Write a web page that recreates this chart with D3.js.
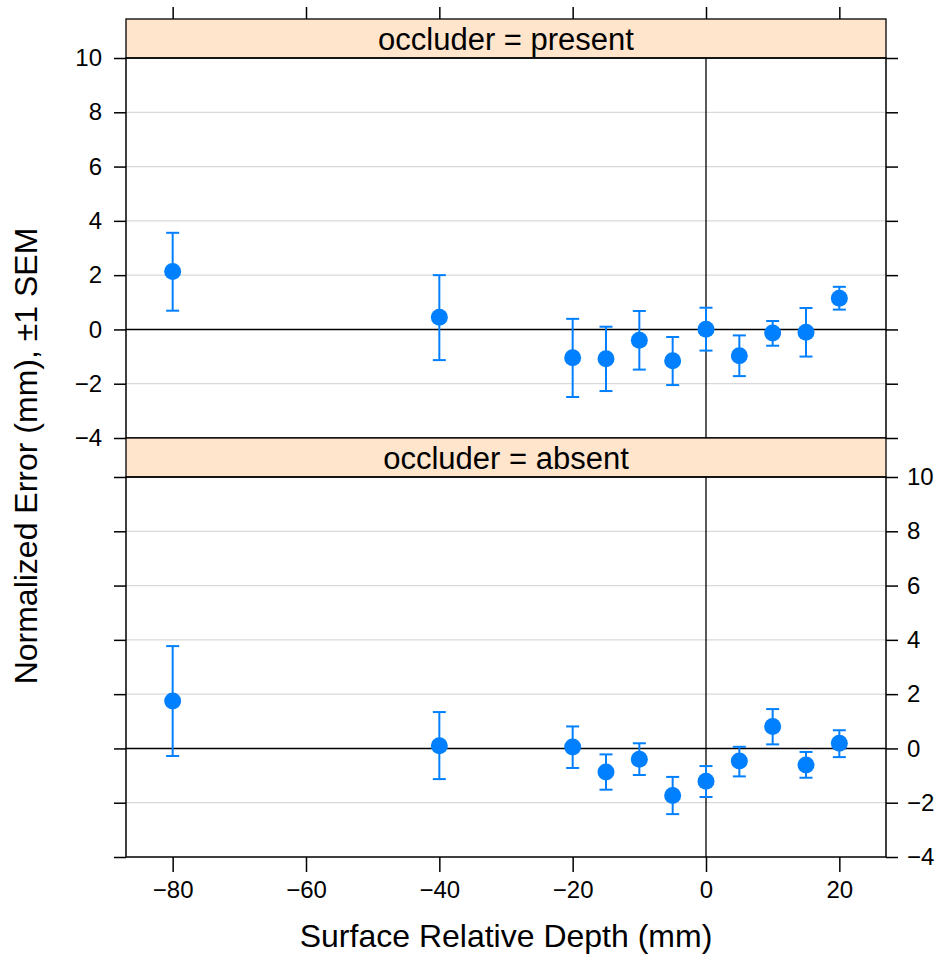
<!DOCTYPE html>
<html>
<head>
<meta charset="utf-8">
<script src="https://cdn.jsdelivr.net/npm/d3@7"></script>
<style>
  body { margin: 0; background: #fff; }
  svg { display: block; font-family: "Liberation Sans", Arial, Helvetica, sans-serif; }
</style>
</head>
<body>
<svg id="chart" width="942" height="959"></svg>
<script>
// Surface relative depth (mm) for each condition
const depths = [-80, -40, -20, -15, -10, -5, 0, 5, 10, 15, 20];

// Occluder present: mean normalized error and ±1 SEM bounds
const presentMean  = [2.13, 0.45, -1.04, -1.08, -0.40, -1.15, 0.01, -0.97, -0.13, -0.10, 1.15];
const presentUpper = [3.56, 2.00, 0.39, 0.10, 0.68, -0.28, 0.80, -0.22, 0.31, 0.79, 1.57];
const presentLower = [0.69, -1.13, -2.49, -2.27, -1.48, -2.05, -0.78, -1.72, -0.60, -1.00, 0.73];

// Occluder absent: mean normalized error and ±1 SEM bounds
const absentMean  = [1.75, 0.10, 0.05, -0.87, -0.40, -1.73, -1.21, -0.46, 0.81, -0.61, 0.19];
const absentUpper = [3.77, 1.34, 0.81, -0.22, 0.19, -1.05, -0.65, 0.06, 1.45, -0.13, 0.67];
const absentLower = [-0.28, -1.13, -0.72, -1.52, -0.98, -2.42, -1.79, -1.03, 0.15, -1.08, -0.32];

const xTicks = [-80, -60, -40, -20, 0, 20];
const yTicks = [-4, -2, 0, 2, 4, 6, 8, 10];
const gridTicks = [-2, 2, 4, 6, 8];
const stripLabels = ["occluder = present", "occluder = absent"];

const panels = [
  { label: stripLabels[0], mean: presentMean, upper: presentUpper, lower: presentLower },
  { label: stripLabels[1], mean: absentMean,  upper: absentUpper,  lower: absentLower }
];

const svg = d3.select("#chart");
const left = 126, right = 886;
const stripH = 39;
const panelTop = [19, 438];   // top of each strip
const panelH = 380;
const fmt = d => d3.format("d")(d).replace("-", "\u2212");

const x = d3.scaleLinear().domain([-87, 27]).range([left, right]);
const blue = "#0080ff";

function styleAxis(a) {
  a.select(".domain").remove();
  a.selectAll("line").attr("stroke", "#000").attr("stroke-width", 1.5);
  a.selectAll("text").attr("font-size", 24).attr("fill", "#000")
    .attr("font-family", "Liberation Sans, Arial, sans-serif");
}

panels.forEach((p, i) => {
  const top = panelTop[i] + stripH;
  const y = d3.scaleLinear().domain([-4, 10]).range([top + panelH, top]);
  const g = svg.append("g");

  // light reference grid
  g.selectAll("line.grid").data(gridTicks).enter().append("line")
    .attr("x1", left).attr("x2", right)
    .attr("y1", d => y(d)).attr("y2", d => y(d))
    .attr("stroke", "#d9d9d9").attr("stroke-width", 1.3);

  // zero reference lines
  g.append("line").attr("x1", left).attr("x2", right)
    .attr("y1", y(0)).attr("y2", y(0))
    .attr("stroke", "#000").attr("stroke-width", 1.6);
  g.append("line").attr("x1", x(0)).attr("x2", x(0))
    .attr("y1", top).attr("y2", top + panelH)
    .attr("stroke", "#000").attr("stroke-width", 1.3);

  // error bars with caps, then the means
  const bars = g.selectAll("g.bar").data(depths).enter().append("g");
  bars.append("line")
    .attr("x1", d => x(d)).attr("x2", d => x(d))
    .attr("y1", (d, j) => y(p.upper[j])).attr("y2", (d, j) => y(p.lower[j]))
    .attr("stroke", blue).attr("stroke-width", 2);
  bars.append("line")
    .attr("x1", d => x(d) - 6.5).attr("x2", d => x(d) + 6.5)
    .attr("y1", (d, j) => y(p.upper[j])).attr("y2", (d, j) => y(p.upper[j]))
    .attr("stroke", blue).attr("stroke-width", 2);
  bars.append("line")
    .attr("x1", d => x(d) - 6.5).attr("x2", d => x(d) + 6.5)
    .attr("y1", (d, j) => y(p.lower[j])).attr("y2", (d, j) => y(p.lower[j]))
    .attr("stroke", blue).attr("stroke-width", 2);
  bars.append("circle")
    .attr("cx", d => x(d)).attr("cy", (d, j) => y(p.mean[j]))
    .attr("r", 8.5).attr("fill", blue);

  // strip
  svg.append("rect").attr("x", left).attr("y", panelTop[i])
    .attr("width", right - left).attr("height", stripH)
    .attr("fill", "#ffe5cc").attr("stroke", "#000").attr("stroke-width", 1.3);
  svg.append("text").attr("x", (left + right) / 2).attr("y", panelTop[i] + stripH / 2 + 1)
    .attr("text-anchor", "middle").attr("dominant-baseline", "central")
    .attr("font-size", 31).text(p.label);

  // panel frame
  svg.append("rect").attr("x", left).attr("y", top)
    .attr("width", right - left).attr("height", panelH)
    .attr("fill", "none").attr("stroke", "#000").attr("stroke-width", 1.5);

  // y axes: labels on the left for the upper panel, on the right for the lower one
  const yLeft = d3.axisLeft(y).tickValues(yTicks).tickSize(12).tickPadding(12)
    .tickFormat(i === 0 ? fmt : () => "");
  const yRight = d3.axisRight(y).tickValues(yTicks).tickSize(12).tickPadding(9)
    .tickFormat(i === 1 ? fmt : () => "");
  styleAxis(svg.append("g").attr("transform", `translate(${left},0)`).call(yLeft));
  styleAxis(svg.append("g").attr("transform", `translate(${right},0)`).call(yRight));
});

// x axes: bare ticks above the top strip, labelled ticks below the lower panel
const xTop = d3.axisTop(x).tickValues(xTicks).tickSize(12).tickFormat(() => "");
styleAxis(svg.append("g").attr("transform", `translate(0,${panelTop[0]})`).call(xTop));
const xBottom = d3.axisBottom(x).tickValues(xTicks).tickSize(15).tickPadding(9).tickFormat(fmt);
styleAxis(svg.append("g").attr("transform", `translate(0,${panelTop[1] + stripH + panelH})`).call(xBottom));

// axis titles
svg.append("text").attr("x", (left + right) / 2).attr("y", 947)
  .attr("text-anchor", "middle").attr("font-size", 32)
  .text("Surface Relative Depth (mm)");
svg.append("text")
  .attr("transform", `translate(37,456) rotate(-90)`)
  .attr("text-anchor", "middle").attr("font-size", 32)
  .text("Normalized Error (mm), \u00b11 SEM");
</script>
</body>
</html>
